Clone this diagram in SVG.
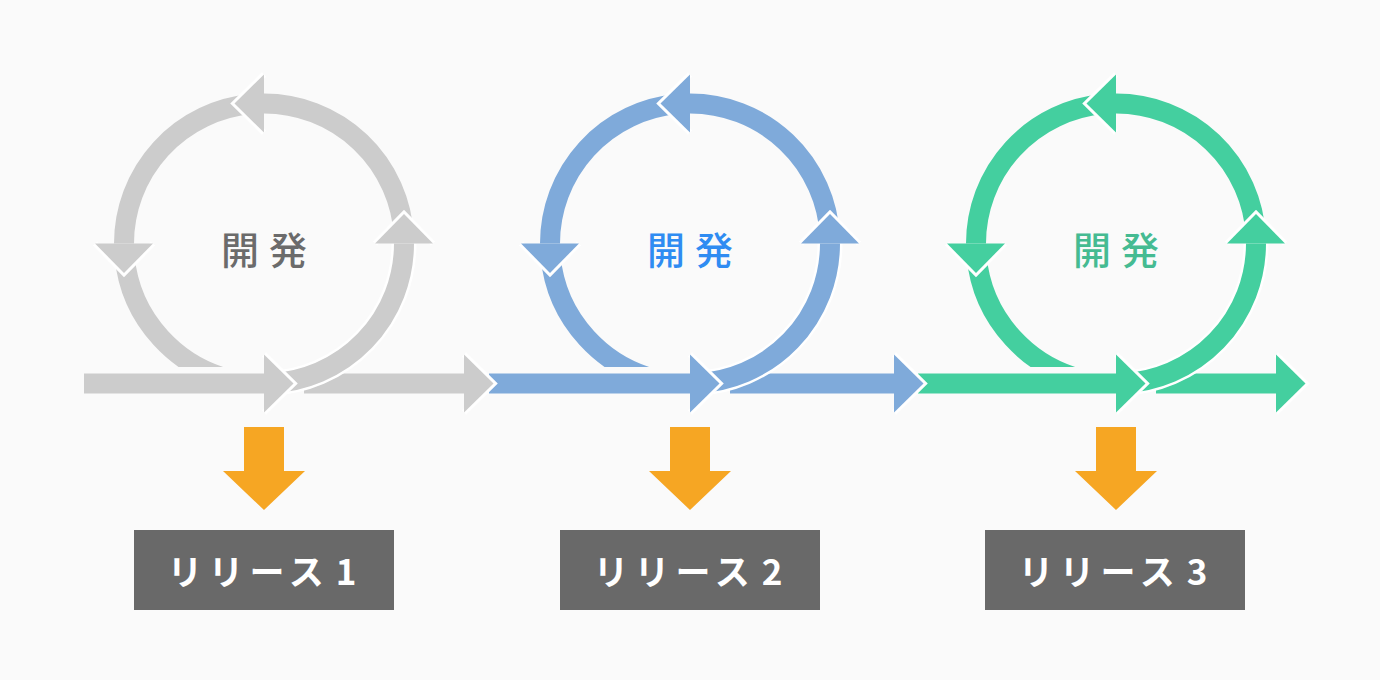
<svg xmlns="http://www.w3.org/2000/svg" width="1380" height="680" viewBox="0 0 1380 680">
<style>
.arc{fill:none;stroke:currentColor;stroke-width:20}
.halo{fill:none;stroke:#fff;stroke-width:25}
.edge{fill:none;stroke:#fff;stroke-width:6;stroke-linejoin:miter}
.fillc{fill:currentColor}
.gray{color:#CCCCCC}
.blue{color:#7FAADA}
.green{color:#44CF9F}
.lbl{font-family:"Noto Sans CJK JP","Noto Sans",sans-serif;font-size:38px;letter-spacing:10px;text-anchor:middle;font-weight:500}
.rel{font-family:"Noto Sans CJK JP","Noto Sans",sans-serif;font-size:35px;font-weight:bold;fill:#FFFFFF;letter-spacing:6px;text-anchor:middle}
.box{fill:#696969}
.down{fill:#F6A623}
</style>
<defs>
<clipPath id="cut"><rect x="-300" y="0" width="600" height="367"/></clipPath>
<path id="aTop" d="M139.81,236.17 A140,140 0 0 0 0,103.5"/>
<path id="aLeft" d="M-12.2,104.03 A140,140 0 0 0 -140,243.5"/>
<path id="aBL" d="M-139.47,255.7 A140,140 0 0 0 -24.31,381.37"/>
<path id="aRight" d="M4.89,383.41 A140,140 0 0 0 140,243.5"/>
<polyline id="hTop" points="0,74.5 -29.5,103.5 0,132.5"/>
<polyline id="hLeft" points="-169,243.5 -140,273 -111,243.5"/>
<polyline id="hRight" points="111,243.5 140,214 169,243.5"/>
<polyline id="hBot" points="0,354.5 29.5,383.5 0,412.5"/>
</defs>
<rect width="1380" height="680" fill="#FAFAFA"/>
<g id="connectors">
  <!-- shafts and arcs -->
  <g class="green" transform="translate(1116,0)">
    <rect class="fillc" x="-198" y="373.5" width="198" height="20"/>
    <rect class="fillc" x="40" y="373.5" width="120" height="20"/>
    <use href="#aTop" class="arc"/>
    <use href="#aLeft" class="arc"/>
    <use href="#aBL" class="arc" clip-path="url(#cut)"/>
    <use href="#aRight" class="halo"/>
    <use href="#aRight" class="arc"/>
  </g>
  <g class="blue" transform="translate(690,0)">
    <rect class="fillc" x="-201" y="373.5" width="201" height="20"/>
    <rect class="fillc" x="40" y="373.5" width="164" height="20"/>
    <use href="#aTop" class="arc"/>
    <use href="#aLeft" class="arc"/>
    <use href="#aBL" class="arc" clip-path="url(#cut)"/>
    <use href="#aRight" class="halo"/>
    <use href="#aRight" class="arc"/>
  </g>
  <g class="gray" transform="translate(264,0)">
    <rect class="fillc" x="-180" y="373.5" width="180" height="20"/>
    <rect class="fillc" x="40" y="373.5" width="160" height="20"/>
    <use href="#aTop" class="arc"/>
    <use href="#aLeft" class="arc"/>
    <use href="#aBL" class="arc" clip-path="url(#cut)"/>
    <use href="#aRight" class="halo"/>
    <use href="#aRight" class="arc"/>
  </g>
  <!-- heads -->
  <g class="green" transform="translate(1116,0)">
    <use href="#hTop" class="edge"/><use href="#hTop" class="fillc"/>
    <use href="#hLeft" class="edge"/><use href="#hLeft" class="fillc"/>
    <use href="#hRight" class="edge"/><use href="#hRight" class="fillc"/>
    <use href="#hBot" class="edge"/><use href="#hBot" class="fillc"/>
    <g transform="translate(160,0)"><use href="#hBot" class="edge"/><use href="#hBot" class="fillc"/></g>
  </g>
  <g class="blue" transform="translate(690,0)">
    <use href="#hTop" class="edge"/><use href="#hTop" class="fillc"/>
    <use href="#hLeft" class="edge"/><use href="#hLeft" class="fillc"/>
    <use href="#hRight" class="edge"/><use href="#hRight" class="fillc"/>
    <use href="#hBot" class="edge"/><use href="#hBot" class="fillc"/>
    <g transform="translate(204,0)"><use href="#hBot" class="edge"/><use href="#hBot" class="fillc"/></g>
  </g>
  <g class="gray" transform="translate(264,0)">
    <use href="#hTop" class="edge"/><use href="#hTop" class="fillc"/>
    <use href="#hLeft" class="edge"/><use href="#hLeft" class="fillc"/>
    <use href="#hRight" class="edge"/><use href="#hRight" class="fillc"/>
    <use href="#hBot" class="edge"/><use href="#hBot" class="fillc"/>
    <g transform="translate(200,0)"><use href="#hBot" class="edge"/><use href="#hBot" class="fillc"/></g>
  </g>
  <!-- release arrows -->
  <polygon class="down" points="244,427 284,427 284,471 305,471 264,510 223,471 244,471"/>
  <polygon class="down" points="670,427 710,427 710,471 731,471 690,510 649,471 670,471"/>
  <polygon class="down" points="1096,427 1136,427 1136,471 1157,471 1116,510 1075,471 1096,471"/>
</g>
<g id="dev1"><text class="lbl" x="269" y="264" fill="#6B6B6B">開発</text></g>
<g id="dev2"><text class="lbl" x="695" y="264" fill="#2F8CF2">開発</text></g>
<g id="dev3"><text class="lbl" x="1121" y="264" fill="#45BB92">開発</text></g>
<g id="release1"><rect class="box" x="134" y="530" width="260" height="80"/><text class="rel" x="265" y="585">リリース<tspan dx="6">1</tspan></text></g>
<g id="release2"><rect class="box" x="560" y="530" width="260" height="80"/><text class="rel" x="691" y="585">リリース<tspan dx="6">2</tspan></text></g>
<g id="release3"><rect class="box" x="985" y="530" width="260" height="80"/><text class="rel" x="1116" y="585">リリース<tspan dx="6">3</tspan></text></g>
</svg>
